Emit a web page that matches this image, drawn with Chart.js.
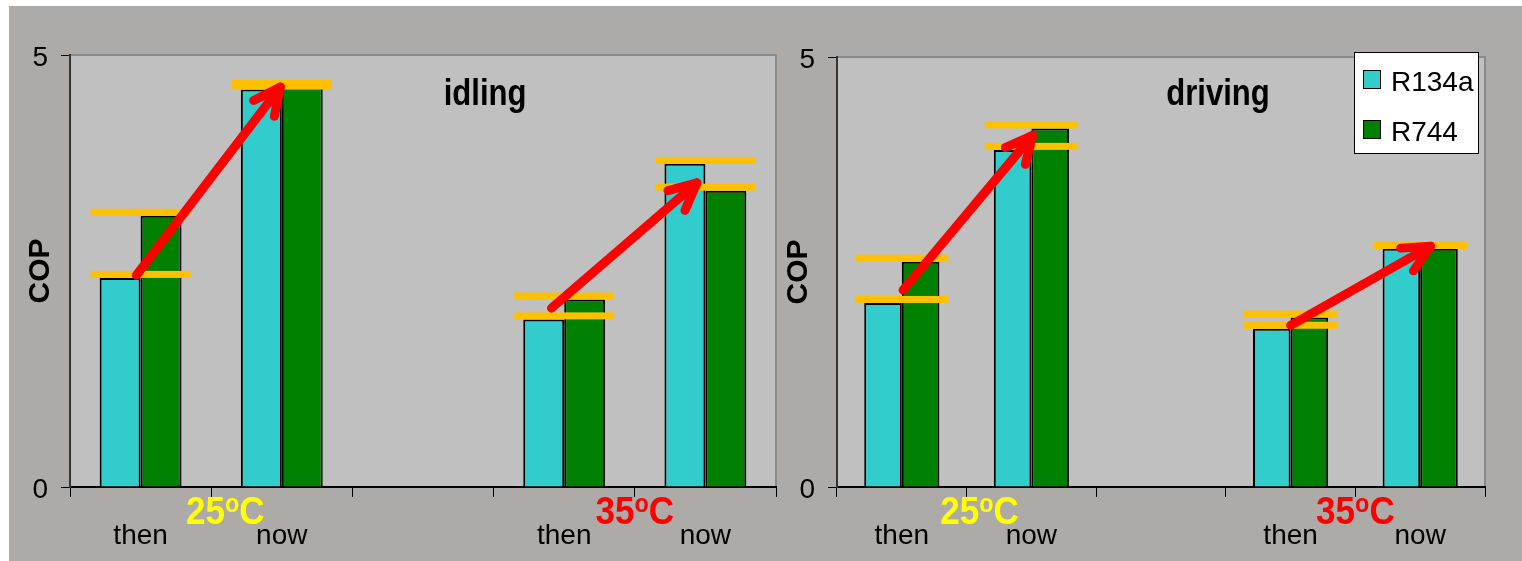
<!DOCTYPE html>
<html>
<head>
<meta charset="utf-8">
<title>COP R134a / R744</title>
<script src="https://cdn.jsdelivr.net/npm/chart.js@4.4.1/dist/chart.umd.min.js"></script>
<style>
  html, body { margin: 0; padding: 0; background: #ffffff; width: 1522px; height: 561px; overflow: hidden; }
  #backdrop { position: absolute; left: 9px; top: 6px; right: 0; bottom: 0; background: #aeaaa7; }
  .panel { position: absolute; top: 0; }
  .panel canvas { display: block; }
  #panelIdling { left: 0; }
  #panelDriving { left: 776px; }
</style>
</head>
<body>
<div id="backdrop"></div>
<div class="panel" id="panelIdling"><canvas id="idling" width="780" height="561"></canvas></div>
<div class="panel" id="panelDriving"><canvas id="driving" width="746" height="561"></canvas></div>
<script>
// Categories: two temperature groups (then / now), separated by an empty slot
const categories = ['then', 'now', '', 'then', 'now'];
const seriesNames = ['R134a', 'R744'];

// COP values, idling
const idlingR134a = [2.42, 4.60, null, 1.94, 3.74];
const idlingR744  = [3.14, 4.63, null, 2.17, 3.43];

// COP values, driving
const drivingR134a = [2.14, 3.92, null, 1.84, 2.77];
const drivingR744  = [2.62, 4.17, null, 1.97, 2.77];

const yTicks = [0, 5];

// Ambient temperature labels and their category positions
const tempLabels = ['25', '35'];
const tempPositions = [0.6, 3.5];
const tempColors = ['#ffff00', '#ff0000'];

// Improvement arrows: [from category, from COP, to category, to COP]
const idlingArrows  = [[-0.03, 2.45, 0.99, 4.63], [2.91, 2.07, 3.94, 3.52]];
const drivingArrows = [[0.01, 2.29, 1.01, 4.09], [3.00, 1.88, 4.08, 2.80]];

const FONT = "'Liberation Sans', Arial, Helvetica, sans-serif";
const COLORS = {
  r134a: '#33cccc',
  r744: '#008000',
  marker: '#ffc000',
  arrow: '#ff0000',
  plot: '#c0c0c0',
  frame: '#8a8a8a'
};

const panelPlugin = {
  id: 'panel',
  beforeDraw(chart) {
    const { ctx, chartArea: a } = chart;
    ctx.save();
    ctx.fillStyle = COLORS.plot;
    ctx.fillRect(a.left, a.top, a.right - a.left, a.bottom - a.top);
    ctx.strokeStyle = COLORS.frame;
    ctx.lineWidth = 2;
    ctx.beginPath();
    ctx.moveTo(a.left, a.top);
    ctx.lineTo(a.right, a.top);
    ctx.lineTo(a.right, a.bottom);
    ctx.stroke();
    ctx.restore();
  },
  afterDatasetsDraw(chart, args, o) {
    const { ctx } = chart;
    const m0 = chart.getDatasetMeta(0);
    const m1 = chart.getDatasetMeta(1);
    const d0 = chart.data.datasets[0].data;
    const d1 = chart.data.datasets[1].data;
    ctx.save();
    // level markers on top of each bar, spanning the pair
    ctx.fillStyle = COLORS.marker;
    m0.data.forEach((b0, i) => {
      if (d0[i] == null || d1[i] == null) return;
      const b1 = m1.data[i];
      const left = b0.x - b0.width / 2 - o.overhang;
      const right = b1.x + b1.width / 2 + o.overhang;
      [b0, b1].forEach(b => ctx.fillRect(left, b.y - o.thickness, right - left, o.thickness));
    });
    // arrows
    const xs = chart.scales.x, ys = chart.scales.y;
    ctx.strokeStyle = COLORS.arrow;
    ctx.lineWidth = 9;
    ctx.lineCap = 'round';
    ctx.lineJoin = 'round';
    o.arrows.forEach(([c0, v0, c1, v1]) => {
      const x0 = xs.getPixelForValue(c0), y0 = ys.getPixelForValue(v0);
      const x1 = xs.getPixelForValue(c1), y1 = ys.getPixelForValue(v1);
      const ang = Math.atan2(y0 - y1, x0 - x1);
      const head = 30, spread = 0.45;
      ctx.beginPath();
      ctx.moveTo(x0, y0);
      ctx.lineTo(x1, y1);
      ctx.stroke();
      ctx.beginPath();
      ctx.moveTo(x1 + head * Math.cos(ang + spread), y1 + head * Math.sin(ang + spread));
      ctx.lineTo(x1, y1);
      ctx.lineTo(x1 + head * Math.cos(ang - spread), y1 + head * Math.sin(ang - spread));
      ctx.stroke();
    });
    ctx.restore();
  },
  afterDraw(chart, args, o) {
    const { ctx, chartArea: a } = chart;
    const xs = chart.scales.x;
    ctx.save();
    // panel title
    ctx.fillStyle = '#000';
    ctx.font = `bold 37px ${FONT}`;
    ctx.textAlign = 'center';
    ctx.textBaseline = 'alphabetic';
    ctx.save();
    ctx.translate(a.left + (a.right - a.left) * 0.588, a.top + o.titleOffset);
    ctx.scale(0.84, 1);
    ctx.fillText(o.title, 0, 0);
    ctx.restore();

    // temperature labels with superscript degree
    ctx.textAlign = 'left';
    const big = `bold 39px ${FONT}`, small = `bold 26px ${FONT}`;
    tempLabels.forEach((t, k) => {
      ctx.font = big;
      const w1 = ctx.measureText(t).width;
      const w3 = ctx.measureText('C').width;
      ctx.font = small;
      const w2 = ctx.measureText('o').width;
      const cx = xs.getPixelForValue(tempPositions[k]);
      const sx = 0.9;
      const base = xs.top + 37;
      ctx.save();
      ctx.translate(cx - sx * (w1 + w2 + w3) / 2, base);
      ctx.scale(sx, 1);
      ctx.fillStyle = tempColors[k];
      ctx.font = big;
      ctx.fillText(t, 0, 0);
      ctx.font = small;
      ctx.fillText('o', w1, -12);
      ctx.font = big;
      ctx.fillText('C', w1 + w2, 0);
      ctx.restore();
    });

    // legend box
    if (o.legend) {
      const boxW = 124, boxH = 101;
      const boxL = a.right - 7 - boxW, boxT = a.top - 5;
      ctx.fillStyle = '#ffffff';
      ctx.fillRect(boxL, boxT, boxW, boxH);
      ctx.strokeStyle = '#000';
      ctx.lineWidth = 1;
      ctx.strokeRect(boxL + 0.5, boxT + 0.5, boxW, boxH);
      ctx.font = `28px ${FONT}`;
      chart.data.datasets.forEach((ds, k) => {
        const sy = boxT + 18 + k * 50;
        ctx.fillStyle = ds.backgroundColor;
        ctx.fillRect(boxL + 9, sy, 18, 19);
        ctx.strokeRect(boxL + 9.5, sy + 0.5, 17, 18);
        ctx.fillStyle = '#000';
        ctx.fillText(ds.label, boxL + 37, boxT + 39 + k * 50);
      });
    }
    ctx.restore();
  }
};

function buildChart(id, title, r134a, r744, arrows, layout) {
  return new Chart(document.getElementById(id), {
    type: 'bar',
    data: {
      labels: categories,
      datasets: [
        { label: seriesNames[0], data: r134a, backgroundColor: COLORS.r134a },
        { label: seriesNames[1], data: r744, backgroundColor: COLORS.r744 }
      ]
    },
    options: {
      responsive: false,
      animation: false,
      devicePixelRatio: 1,
      layout: { padding: layout.padding },
      datasets: {
        bar: { categoryPercentage: 0.58, barPercentage: 1, borderColor: '#000', borderWidth: 2 }
      },
      plugins: {
        legend: { display: false },
        tooltip: { enabled: false },
        panel: {
          title: title,
          titleOffset: layout.titleOffset,
          arrows: arrows,
          legend: layout.legend,
          overhang: 9,
          thickness: 7
        }
      },
      scales: {
        x: {
          grid: { display: true, drawOnChartArea: false, drawTicks: true, tickLength: 10, color: '#000', offset: true },
          border: { color: '#000', width: 2 },
          ticks: { color: '#000', font: { family: FONT, size: 28 }, padding: 22, autoSkip: false, maxRotation: 0 },
          afterFit: s => { s.height = 74; }
        },
        y: {
          min: 0,
          max: 5,
          afterBuildTicks: s => { s.ticks = yTicks.map(v => ({ value: v })); },
          grid: { drawOnChartArea: false, tickLength: 9, color: '#000' },
          border: { color: '#333', width: 2 },
          ticks: { color: '#000', font: { family: FONT, size: 28 }, padding: 13, labelOffset: 3 },
          title: {
            display: true,
            text: 'COP',
            color: '#000',
            font: { family: FONT, size: 30, weight: 'bold' },
            padding: { top: layout.titlePad, bottom: 0 }
          },
          afterFit: s => { s.width = layout.axisWidth; }
        }
      }
    },
    plugins: [panelPlugin]
  });
}

buildChart('idling', 'idling', idlingR134a, idlingR744, idlingArrows, {
  padding: { left: 0, top: 55, right: 4, bottom: 0 },
  axisWidth: 70,
  titlePad: 23,
  titleOffset: 50,
  legend: false
});

buildChart('driving', 'driving', drivingR134a, drivingR744, drivingArrows, {
  padding: { left: 0, top: 57, right: 37, bottom: 0 },
  axisWidth: 61,
  titlePad: 5,
  titleOffset: 48,
  legend: true
});
</script>
</body>
</html>
